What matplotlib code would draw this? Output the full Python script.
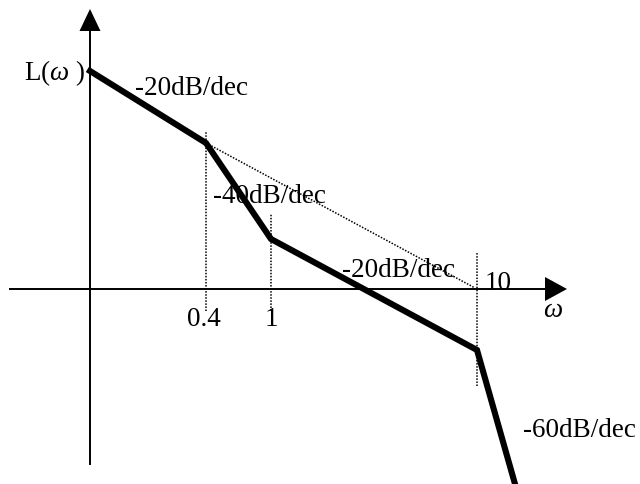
import numpy as np
import matplotlib
matplotlib.use('Agg')
import matplotlib.pyplot as plt

plt.rcParams['font.family'] = ['Liberation Serif', 'DejaVu Serif']
plt.rcParams['mathtext.fontset'] = 'custom'
plt.rcParams['mathtext.it'] = 'Liberation Serif:italic'
plt.rcParams['mathtext.rm'] = 'Liberation Serif'

# ==========================================================
# DADOS (coordenadas esquemáticas do diagrama assintótico)
# ==========================================================
# pontos de quebra da curva L(w)
curva_x = [0.0, 11.6, 18.1, 38.7, 42.5]
curva_y = [21.8, 14.6, 5.0, -6.1, -19.5]

# prolongamento pontilhado da reta de -20dB/dec
ext_x = [11.6, 38.5]
ext_y = [14.6, 0.1]

# linhas verticais pontilhadas nas frequências de canto
canto_x = [11.6, 18.1, 38.7]
canto_topo = [15.7, 7.5, 3.7]
canto_base = [-2.2, -2.2, -9.7]

# rótulos das frequências
freq_labels = ['0.4', '1']
freq_pos = [11.4, 18.1]

# inclinações
incl_txt = ['-20dB/dec', '-40dB/dec', '-20dB/dec', '-60dB/dec']
incl_x = [4.5, 12.3, 25.2, 43.3]
incl_y = [19.5, 8.7, 1.3, -14.7]

fig = plt.figure(figsize=(6.4, 4.85), dpi=100)
ax = fig.add_axes([0, 0, 1, 1])
ax.set_xlim(-9, 55)
ax.set_ylim(-19.5, 29)
ax.axis('off')

# eixos
ax.plot([0, 0], [-17.5, 25.8], color='black', lw=1.4)
ax.plot([-8, 45.5], [0, 0], color='black', lw=1.4)
ax.fill([-1.05, 1.05, 0], [25.8, 25.8, 28.0], color='black', lw=0)
ax.fill([45.5, 45.5, 47.7], [1.2, -1.2, 0], color='black', lw=0)

# linhas pontilhadas
pontilhado = (0, (1, 1))
ax.plot(ext_x, ext_y, color='black', lw=1.1, ls=pontilhado)
for xc, yt, yb in zip(canto_x, canto_topo, canto_base):
    ax.plot([xc, xc], [yb, yt], color='black', lw=1.1, ls=pontilhado)

# curva assintótica
ax.plot(curva_x, curva_y, color='black', lw=4.4, solid_joinstyle='miter')

fs = 19.5
ax.text(-0.5, 21.0, r'L($\omega$ )', fontsize=fs, ha='right', va='baseline')
for txt, x, y in zip(incl_txt, incl_x, incl_y):
    ax.text(x, y, txt, fontsize=fs, ha='left', va='baseline')
for lab, x in zip(freq_labels, freq_pos):
    ax.text(x, -3.6, lab, fontsize=fs, ha='center', va='baseline')
ax.text(39.5, 0.0, '10', fontsize=fs, ha='left', va='baseline')
ax.text(45.3, -2.7, r'$\omega$', fontsize=fs, ha='left', va='baseline')

fig.savefig('out.png', dpi=100)
